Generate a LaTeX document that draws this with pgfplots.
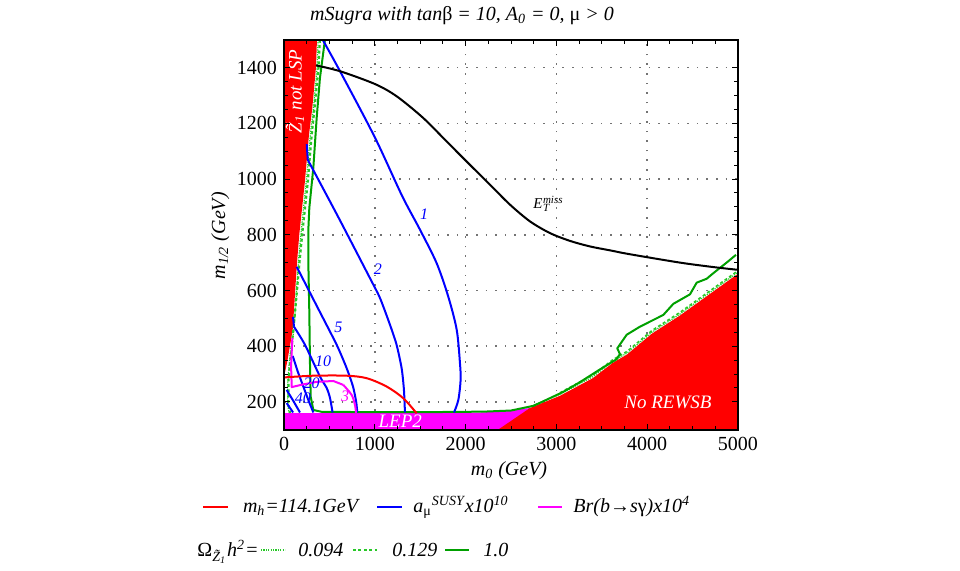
\documentclass[border=0pt]{standalone}
\usepackage{fontspec}
\setmainfont{Liberation Serif}
\usepackage{pgfplots}
\pgfplotsset{compat=1.18}
\pgfplotsset{
  layers/mylayers/.define layer set={
    axis background,axis grid,main,axis ticks,axis lines,axis tick labels,axis descriptions,axis foreground
  }{/pgfplots/layers/standard},
}
\definecolor{dgreen}{RGB}{0,160,0}
\definecolor{lgreen}{RGB}{40,200,40}
\definecolor{mag}{RGB}{255,0,255}
\definecolor{rd}{RGB}{255,0,0}
\definecolor{bl}{RGB}{0,0,255}
\begin{document}
\begin{tikzpicture}
\path (0pt,0pt) rectangle (480pt,283pt);
\begin{axis}[
  set layers=mylayers,
  at={(142pt,70.5pt)}, anchor=south west,
  scale only axis, width=227pt, height=195pt,
  xmin=0, xmax=5000, ymin=100, ymax=1500,
  xtick={0,1000,...,5000}, ytick={200,400,...,1400},
  minor x tick num=3, minor y tick num=3,
  major tick length=3pt, minor tick length=2pt,
  tick style={black, line width=0.5pt},
  axis line style={line width=0.8pt},
  xmajorgrids, ymajorgrids,
  major grid style={black!55, line width=0.8pt, dash pattern=on 0.8pt off 4pt},
  /pgf/number format/1000 sep={},
  /pgf/number format/assume math mode=true,
  ticklabel style={font=\fontsize{10}{12}\selectfont},
  line join=round,
]
% LEP2 excluded
\addplot[fill=mag, draw=none] coordinates {(0,100) (0,160) (1500,160) (2200,162) (2520,170) (2800,182) (2800,100)};
% No REWSB
\addplot[fill=rd, draw=none] coordinates {(2357,100) (2709,178) (3040,222) (3400,285) (3620,340) (3777,370) (4052,445) (4360,510) (5000,660) (5000,100)};
% Z1 not LSP
\addplot[fill=rd, draw=none] coordinates {(0,1500) (363,1500) (352,1400) (310,1250) (275,1159) (230,990) (168,800) (143,699) (96,459) (60,390) (33,340) (0,290)};

% Omega h^2 = 0.094 (thin dotted)
\addplot[lgreen, line width=0.6pt, dash pattern=on 0.6pt off 0.6pt] coordinates {(375,1500) (365,1400) (323,1250) (290,1159) (245,990) (185,800) (158,699) (110,459) (75,390) (55,330) (40,260) (40,190) (55,160)};
\addplot[lgreen, line width=0.6pt, dash pattern=on 0.6pt off 0.6pt] coordinates {(2700,182) (3040,227) (3400,290) (3620,345) (3777,375) (4052,450) (4360,515) (5000,665)};
% Omega h^2 = 0.129 (dashed)
\addplot[lgreen, line width=1.1pt, dash pattern=on 1.5pt off 1.2pt] coordinates {(395,1500) (380,1400) (335,1250) (305,1159) (262,990) (200,800) (170,699) (121,520) (85,399) (50,280) (47,195) (66,160)};
\addplot[lgreen, line width=0.8pt, dash pattern=on 1.5pt off 1.2pt] coordinates {(3040,233) (3400,296) (3620,351) (3777,381) (4052,456) (4360,521) (5000,671)};
% Omega h^2 = 1.0 (solid)
\addplot[dgreen, line width=1pt] coordinates {(451,1500) (396,1363) (360,1220) (323,1040) (279,897) (268,818) (268,699) (279,520) (286,340) (294,219) (323,171) (420,164) (1500,163) (2200,165) (2500,169) (2750,186) (3076,236) (3260,271) (3516,324) (3663,353) (3700,372) (3670,392) (3774,441) (3920,470) (4177,512) (4288,552) (4471,586) (4545,628) (4655,642) (4728,662) (4875,700) (4978,728)};

% a_mu SUSY contours
\addplot[bl, line width=1pt, smooth] coordinates {(426,1500) (617,1387) (1000,1150) (1300,940) (1498,818) (1681,698) (1809,578) (1902,459) (1938,339) (1945,279) (1920,207) (1872,162)};
\addplot[bl, line width=1pt] coordinates {(250,1125) (262,1069)};
\addplot[bl, line width=1pt, smooth, tension=0.4] coordinates {(262,1069) (600,862) (947,644) (1057,573) (1167,477) (1240,405) (1296,320) (1321,243) (1332,162)};
\addplot[bl, line width=1pt, smooth, tension=0.4] coordinates {(140,685) (360,545) (580,405) (690,321) (760,255) (795,200) (807,162)};
\addplot[bl, line width=1pt] coordinates {(100,505) (110,470)};
\addplot[bl, line width=1pt, smooth, tension=0.4] coordinates {(110,470) (231,405) (396,291) (470,250) (506,215) (535,162)};
\addplot[bl, line width=1pt] coordinates {(96,365) (150,310) (213,255) (270,205) (323,162)};
\addplot[bl, line width=1pt] coordinates {(29,243) (100,205) (176,162)};
\addplot[bl, line width=1pt] coordinates {(29,196) (100,162)};

% Br(b -> s gamma)
\addplot[mag, line width=1pt] coordinates {(92,430) (78,330) (85,253) (200,262) (360,272) (543,275) (653,261)};
\addplot[mag, line width=1pt, smooth] coordinates {(653,261) (745,225) (782,189) (793,160)};

% m_h = 114.1 GeV
\addplot[rd, line width=1pt, smooth] coordinates {(11,288) (323,294) (690,294) (911,285) (1131,255) (1314,213) (1461,159)};

% missing E_T reach
\addplot[black, line width=1pt, smooth] coordinates {(352,1408) (617,1387) (1002,1341) (1241,1297) (1534,1219) (1791,1135) (2048,1051) (2268,980) (2489,908) (2709,848) (2929,806) (3149,778) (3370,758) (3590,744) (3810,730) (4361,700) (4728,684) (5000,674)};

% labels
\node[bl, font=\fontsize{8}{9}\selectfont\itshape] at (axis cs:1542,875) {1};
\node[bl, font=\fontsize{8}{9}\selectfont\itshape] at (axis cs:1035,678) {2};
\node[bl, font=\fontsize{8}{9}\selectfont\itshape] at (axis cs:600,469) {5};
\node[bl, font=\fontsize{8}{9}\selectfont\itshape] at (axis cs:430,347) {10};
\node[bl, font=\fontsize{8}{9}\selectfont\itshape] at (axis cs:305,268) {20};
\node[bl, font=\fontsize{8}{9}\selectfont\itshape] at (axis cs:209,214) {40};
\node[mag, font=\fontsize{8}{9}\selectfont\itshape] at (axis cs:672,219) {3};
\node[black, font=\fontsize{7.5}{9}\selectfont\itshape, inner sep=0pt] at (axis cs:2908,911) {E\kern0.2pt\raisebox{-0.45ex}{\makebox[0pt][l]{\fontsize{5.5}{6}\selectfont T}}\raisebox{0.8ex}{\fontsize{5.5}{6}\selectfont miss}};
\node[white, rotate=90, font=\fontsize{9.5}{11}\selectfont\itshape] at (axis cs:121,1314) {\~{Z}\textsubscript{1} not LSP};
\node[white, font=\fontsize{9.5}{11}\selectfont\itshape] at (axis cs:4229,197) {No REWSB};
\node[white, font=\fontsize{9.5}{11}\selectfont\itshape] at (axis cs:1280,130) {LEP2};
\end{axis}

% title and axis labels
\node[anchor=base, font=\fontsize{10}{12}\selectfont\itshape] at (231pt,275pt) {mSugra with tan\textup{β} = 10, A\textsubscript{0} = 0, \textup{μ} > 0};
\node[anchor=base, font=\fontsize{10}{12}\selectfont\itshape] at (254.5pt,47.5pt) {m\textsubscript{0} (GeV)};
\node[anchor=base, rotate=90, font=\fontsize{10}{12}\selectfont\itshape] at (112.5pt,167.5pt) {m\textsubscript{1/2} (GeV)};

% legend
\draw[rd, line width=1pt] (101.5pt,32pt) -- (114pt,32pt);
\node[anchor=base west, inner sep=0pt, font=\fontsize{10}{12}\selectfont\itshape] at (121.3pt,29pt) {m\textsubscript{h}=114.1GeV};
\draw[bl, line width=1pt] (188.5pt,32pt) -- (201pt,32pt);
\node[anchor=base west, inner sep=0pt, font=\fontsize{10}{12}\selectfont\itshape] at (206.5pt,29pt) {a\textsubscript{\textup{μ}}\textsuperscript{SUSY}x10\textsuperscript{10}};
\draw[mag, line width=1pt] (269pt,32pt) -- (281pt,32pt);
\node[anchor=base west, inner sep=0pt, font=\fontsize{10}{12}\selectfont\itshape] at (286.5pt,29pt) {Br(b\textup{→}s\textup{γ})x10\textsuperscript{4}};
\node[anchor=base west, inner sep=0pt, font=\fontsize{10}{12}\selectfont\itshape] at (98.5pt,7pt) {\textup{Ω}\textsubscript{\~{Z}\textsubscript{1}}h\textsuperscript{2}=};
\draw[lgreen, line width=0.8pt, dash pattern=on 0.6pt off 0.6pt] (130.5pt,10.5pt) -- (142.5pt,10.5pt);
\node[anchor=base west, inner sep=0pt, font=\fontsize{10}{12}\selectfont\itshape] at (149pt,7pt) {0.094};
\draw[lgreen, line width=1.1pt, dash pattern=on 1.5pt off 1.2pt] (176.5pt,10.5pt) -- (188.5pt,10.5pt);
\node[anchor=base west, inner sep=0pt, font=\fontsize{10}{12}\selectfont\itshape] at (196pt,7pt) {0.129};
\draw[dgreen, line width=1pt] (222.5pt,10.5pt) -- (234.5pt,10.5pt);
\node[anchor=base west, inner sep=0pt, font=\fontsize{10}{12}\selectfont\itshape] at (241.5pt,7pt) {1.0};
\end{tikzpicture}
\end{document}
